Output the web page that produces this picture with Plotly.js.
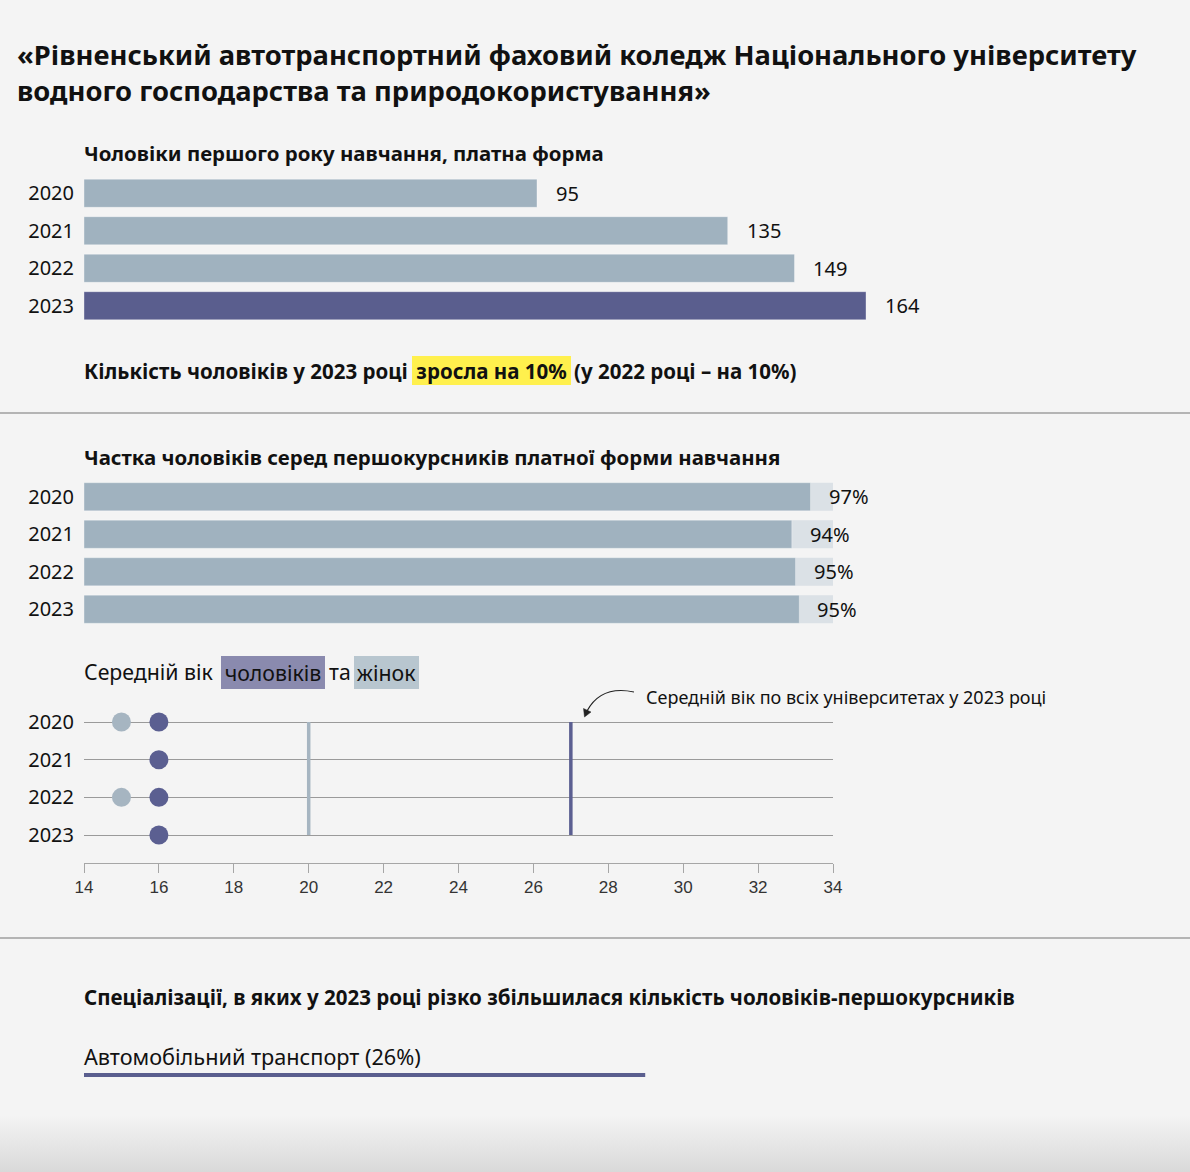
<!DOCTYPE html>
<html>
<head>
<meta charset="utf-8">
<script src="https://cdn.plot.ly/plotly-3.0.1.min.js"></script>
<style>
  html, body { margin: 0; padding: 0; overflow: hidden; }
  body { width: 1190px; height: 1172px;
    background: linear-gradient(to bottom, #f4f4f4 0px, #f4f4f4 1115px, #d9d9d9 1172px); }
  #chart { width: 1190px; height: 1172px; }
</style>
</head>
<body>
<div id="chart"></div>
<script>
// ---------- DATA ----------
const years = ['2020', '2021', '2022', '2023'];
const maleFirstYear = [95, 135, 149, 164];
const shareMale = [97, 94.5, 95, 95.5];
const shareLabels = ['97%', '94%', '95%', '95%'];
const shareTotal = [100, 100, 100, 100];
const ageMen = [16, 16, 16, 16];
const ageWomen = [15, null, 15, null];
const avgAgeAllMen = 27;
const avgAgeAllWomen = 20;
const ageTicks = [14, 16, 18, 20, 22, 24, 26, 28, 30, 32, 34];
const specialties = ['Автомобільний транспорт'];
const specialtyGrowth = [26];
const specialtyLabels = ['Автомобільний транспорт (26%)'];

const titleLines = ['«Рівненський автотранспортний фаховий коледж Національного університету',
                    'водного господарства та природокористування»'];
const sub1 = 'Чоловіки першого року навчання, платна форма';
const noteSegs = ['Кількість чоловіків у 2023 році', 'зросла на 10%', '(у 2022 році – на 10%)'];
const sub2 = 'Частка чоловіків серед першокурсників платної форми навчання';
const ageSegs = ['Середній вік', 'чоловіків', 'та', 'жінок'];
const avgNote = 'Середній вік по всіх університетах у 2023 році';
const sub4 = 'Спеціалізації, в яких у 2023 році різко збільшилася кількість чоловіків-першокурсників';

// ---------- STYLE / LAYOUT HELPERS ----------
const W = 1190, H = 1172;
const FONT = '"Noto Sans", "Open Sans", sans-serif';
const INK = '#111111';
const LIGHT = '#a0b2bf';
const DARK = '#5a5e8e';
const TRACK = '#dbe1e6';
const DOT_LIGHT = '#a6b5c1';
const DOT_DARK = '#5b5f91';
const YELLOW = '#fff04d';
const HL_MEN = '#8a8aae';
const HL_WOMEN = '#b8c6cf';

const cv = document.createElement('canvas').getContext('2d');
function measure(text, size, weight) {
  cv.font = `${weight} ${size}px ${FONT}`;
  return cv.measureText(text).width;
}
function fit(text, weight, target, maxSize) {
  const s = 100 * target / measure(text, 100, weight);
  return Math.min(maxSize, s);
}
const px = v => v / W;
const py = v => 1 - v / H;

const annotations = [];
function textAnn(text, xpx, ypx, size, weight, extra) {
  annotations.push(Object.assign({
    xref: 'paper', yref: 'paper', x: px(xpx), y: py(ypx),
    xanchor: 'left', yanchor: 'middle', showarrow: false, text: text,
    font: {family: FONT, size: size, color: INK, weight: weight},
    borderpad: 0, borderwidth: 0
  }, extra || {}));
}
// highlighted box: left/right/top/bottom in px
function hlAnn(text, x0, x1, y0, y1, size, weight, bg) {
  annotations.push({
    xref: 'paper', yref: 'paper', x: px(x0), y: py((y0 + y1) / 2),
    xanchor: 'left', yanchor: 'middle', showarrow: false, text: text,
    width: x1 - x0, height: y1 - y0, align: 'center', valign: 'middle',
    bgcolor: bg, borderpad: 0, borderwidth: 0,
    font: {family: FONT, size: size, color: INK, weight: weight}
  });
}

// Title
const titleSize = fit(titleLines[0], 700, 1120, 28);
textAnn(titleLines[0], 17, 55, titleSize, 700);
textAnn(titleLines[1], 17, 90, titleSize, 700);

// chart 1 subtitle
textAnn(sub1, 84, 153, fit(sub1, 700, 520, 21), 700);
// note with highlight
const noteSize = fit(noteSegs[0], 700, 324, 21);
textAnn(noteSegs[0], 84, 371, noteSize, 700);
hlAnn(noteSegs[1], 412, 571, 356, 385, noteSize, 700, YELLOW);
textAnn(noteSegs[2], 574, 371, noteSize, 700);
// chart 2 subtitle
textAnn(sub2, 84, 457, fit(sub2, 700, 697, 21), 700);
// chart 3 title with highlights
const ageSize = fit(ageSegs[0], 400, 129, 22);
textAnn(ageSegs[0], 84, 671, ageSize, 400);
hlAnn(ageSegs[1], 221, 325, 656, 689, ageSize, 400, HL_MEN);
textAnn(ageSegs[2], 329, 671, ageSize, 400);
hlAnn(ageSegs[3], 354, 419, 656, 689, ageSize, 400, HL_WOMEN);
textAnn(avgNote, 646, 697, fit(avgNote, 400, 404, 18), 400);
// chart 4
textAnn(sub4, 84, 997, fit(sub4, 700, 931, 21), 700);
textAnn(specialtyLabels[0], 84, 1056, fit(specialtyLabels[0], 400, 337, 22), 400);

// value labels, chart 1 (category axis -> serial index)
maleFirstYear.forEach((v, i) => annotations.push({
  xref: 'x', yref: 'y', x: v, y: i, xanchor: 'left', yanchor: 'middle',
  xshift: 17, showarrow: false, text: String(v),
  font: {family: FONT, size: 20, color: INK}
}));
// value labels, chart 2
shareMale.forEach((v, i) => annotations.push({
  xref: 'x2', yref: 'y2', x: v, y: i, xanchor: 'left', yanchor: 'middle',
  xshift: 16, showarrow: false, text: shareLabels[i],
  font: {family: FONT, size: 20, color: INK}
}));

function P(x, y) { return px(x).toFixed(5) + ',' + py(y).toFixed(5); }
const shapes = [
  {type: 'line', xref: 'paper', yref: 'paper', x0: 0, x1: 1, y0: py(413), y1: py(413),
   line: {color: '#b4b4b4', width: 2}},
  {type: 'line', xref: 'paper', yref: 'paper', x0: 0, x1: 1, y0: py(938), y1: py(938),
   line: {color: '#b4b4b4', width: 2}},
  {type: 'line', xref: 'x3', yref: 'y3', x0: avgAgeAllWomen, x1: avgAgeAllWomen,
   y0: 0, y1: years.length - 1, line: {color: DOT_LIGHT, width: 3.5}, layer: 'above'},
  {type: 'line', xref: 'x3', yref: 'y3', x0: avgAgeAllMen, x1: avgAgeAllMen,
   y0: 0, y1: years.length - 1, line: {color: DOT_DARK, width: 3.5}, layer: 'above'},
  {type: 'path', xref: 'paper', yref: 'paper',
   path: `M${P(634, 692)} Q${P(601, 685)} ${P(587, 711)}`,
   line: {color: '#222', width: 1.2}},
  {type: 'path', xref: 'paper', yref: 'paper',
   path: `M${P(584.5, 717)} L${P(583.5, 708.5)} L${P(591, 712)} Z`,
   fillcolor: '#222', line: {color: '#222', width: 0.5}}
];

const tickFont = {family: FONT, size: 20, color: INK};

const traces = [
  {type: 'bar', orientation: 'h', x: maleFirstYear, y: years, xaxis: 'x', yaxis: 'y',
   marker: {color: years.map((y, i) => i === years.length - 1 ? DARK : LIGHT),
            line: {width: 1, color: 'rgba(255,255,255,0.35)'}},
   hoverinfo: 'skip'},
  {type: 'bar', orientation: 'h', x: shareTotal, y: years, xaxis: 'x2', yaxis: 'y2',
   marker: {color: TRACK}, hoverinfo: 'skip'},
  {type: 'bar', orientation: 'h', x: shareMale, y: years, xaxis: 'x2', yaxis: 'y2',
   marker: {color: LIGHT, line: {width: 1, color: 'rgba(255,255,255,0.35)'}}, hoverinfo: 'skip'},
  {type: 'scatter', mode: 'markers', x: ageWomen, y: years, xaxis: 'x3', yaxis: 'y3',
   marker: {size: 19, color: DOT_LIGHT}, cliponaxis: false, hoverinfo: 'skip'},
  {type: 'scatter', mode: 'markers', x: ageMen, y: years, xaxis: 'x3', yaxis: 'y3',
   marker: {size: 19, color: DOT_DARK}, cliponaxis: false, hoverinfo: 'skip'},
  {type: 'bar', orientation: 'h', x: specialtyGrowth, y: specialties, xaxis: 'x4', yaxis: 'y4',
   width: 1, marker: {color: DARK}, hoverinfo: 'skip'}
];

const catAxis = (domain, anchor) => ({
  domain: domain, type: 'category', categoryorder: 'array', categoryarray: years,
  range: [years.length - 0.5, -0.5], autorange: false, anchor: anchor,
  showgrid: false, zeroline: false, showline: false, ticks: '', ticklabelstandoff: 9,
  tickfont: tickFont, fixedrange: true
});

const layout = {
  width: W, height: H,
  margin: {l: 0, r: 0, t: 0, b: 0},
  paper_bgcolor: 'rgba(0,0,0,0)', plot_bgcolor: 'rgba(0,0,0,0)',
  showlegend: false, hovermode: false,
  barmode: 'overlay', bargap: 0.25,
  font: {family: FONT, color: INK},
  xaxis: {domain: [px(84), px(866)], range: [0, Math.max(...maleFirstYear)], autorange: false, visible: false, anchor: 'y'},
  yaxis: catAxis([py(324.5), py(174.5)], 'x'),
  xaxis2: {domain: [px(84), px(833)], range: [0, 100], autorange: false, visible: false, anchor: 'y2'},
  yaxis2: catAxis([py(628), py(478)], 'x2'),
  xaxis3: {domain: [px(84), px(833)], range: [14, 34], autorange: false, anchor: 'y3', tickmode: 'array', tickvals: ageTicks,
           ticktext: ageTicks.map(String), showgrid: false, zeroline: false, showline: true,
           linecolor: '#a6a6a6', linewidth: 1, ticks: 'outside', ticklen: 9, tickcolor: '#a6a6a6',
           tickfont: {family: '"Liberation Sans", Arial, sans-serif', size: 17, color: '#333'}},
  yaxis3: Object.assign(catAxis([py(863), py(703.2)], 'x3'),
           {range: [3.743, -0.5], showgrid: true, gridcolor: '#9a9a9a', gridwidth: 1}),
  xaxis4: {domain: [px(84), px(833)], range: [0, 34.7], autorange: false, visible: false, anchor: 'y4'},
  yaxis4: {domain: [py(1077), py(1073)], type: 'category', range: [-0.5, 0.5], autorange: false, visible: false, anchor: 'x4'},
  annotations: annotations,
  shapes: shapes
};

Plotly.newPlot('chart', traces, layout, {staticPlot: true, displayModeBar: false});
</script>
</body>
</html>
